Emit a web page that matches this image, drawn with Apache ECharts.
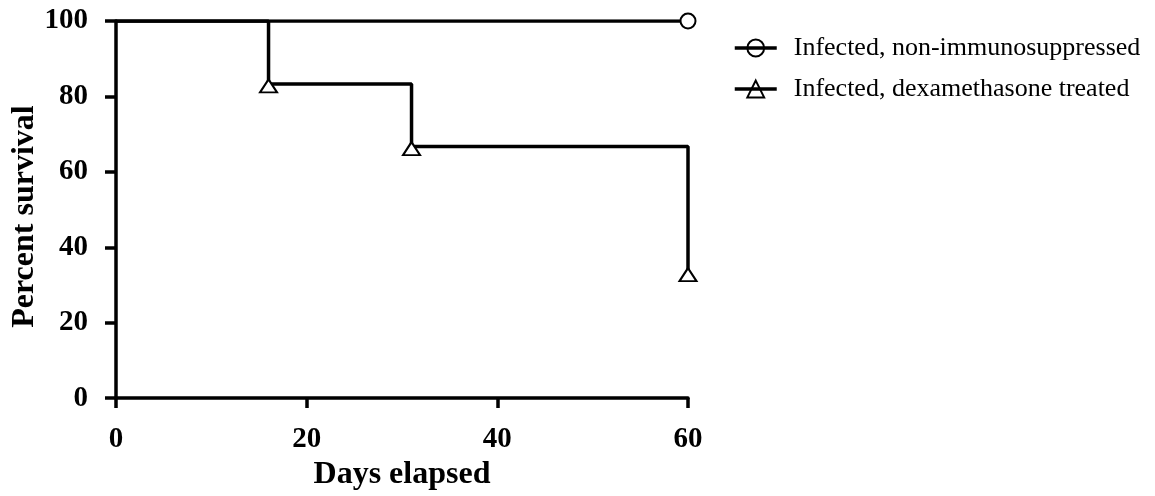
<!DOCTYPE html>
<html>
<head>
<meta charset="utf-8">
<script src="https://cdn.jsdelivr.net/npm/echarts@6/dist/echarts.min.js"></script>
<style>html,body{margin:0;padding:0;background:#fff}#c{width:1155px;height:496px}</style>
</head>
<body>
<div id="c"></div>
<script>
const seriesNames = ['Infected, non-immunosuppressed', 'Infected, dexamethasone treated'];
const nonImmDays = [0, 60];
const nonImmSurvival = [100, 100];
const dexaDays = [0, 16, 31, 60];
const dexaSurvival = [100, 83.3, 66.7, 33.3];
const xTicks = [0, 20, 40, 60];
const yTicks = [0, 20, 40, 60, 80, 100];
const xTitle = 'Days elapsed';
const yTitle = 'Percent survival';

const FONT = "'Liberation Serif', 'Times New Roman', serif";

function toData(xs, ys) {
  return xs.map((x, i) => ({
    value: [x, ys[i]],
    symbol: i === 0 ? 'none' : undefined
  }));
}

const chart = echarts.init(document.getElementById('c'), null, {renderer: 'canvas'});
chart.setOption({
  animation: false,
  backgroundColor: '#fff',
  grid: {left: 116, right: 467, top: 21, bottom: 96, containLabel: false},
  legend: {
    orient: 'vertical',
    left: 728,
    top: 30,
    itemWidth: 42,
    itemHeight: 21,
    itemGap: 15,
    lineStyle: {width: 3.5, color: '#000'},
    textStyle: {fontFamily: FONT, fontSize: 26, color: '#000', padding: [0, 0, 0, 12]},
    data: seriesNames.map(n => ({name: n, itemStyle: {color: 'rgba(255,255,255,0)', borderColor: '#000', borderWidth: 2}}))
  },
  xAxis: {
    type: 'value',
    min: xTicks[0], max: xTicks[xTicks.length - 1], interval: 20,
    name: xTitle, nameLocation: 'middle', nameGap: 60,
    nameTextStyle: {fontFamily: FONT, fontWeight: 'bold', fontSize: 32, color: '#000'},
    axisLine: {onZero: false, lineStyle: {color: '#000', width: 3.5}},
    axisTick: {show: true, length: 10, inside: false, lineStyle: {color: '#000', width: 3.5}},
    axisLabel: {fontFamily: FONT, fontWeight: 'bold', fontSize: 29, color: '#000', margin: 27},
    splitLine: {show: false}
  },
  yAxis: {
    type: 'value',
    min: yTicks[0], max: yTicks[yTicks.length - 1], interval: 20,
    name: yTitle, nameLocation: 'middle', nameGap: 75,
    nameTextStyle: {fontFamily: FONT, fontWeight: 'bold', fontSize: 32, color: '#000', padding: [0, 14, 0, 0]},
    axisLine: {show: true, onZero: false, lineStyle: {color: '#000', width: 3.5}},
    axisTick: {show: true, length: 11, inside: false, lineStyle: {color: '#000', width: 3.5}},
    axisLabel: {fontFamily: FONT, fontWeight: 'bold', fontSize: 29, color: '#000', margin: 28},
    splitLine: {show: false}
  },
  series: [
    {
      name: seriesNames[0],
      type: 'line',
      step: 'end',
      data: toData(nonImmDays, nonImmSurvival),
      symbol: 'circle',
      symbolSize: 15,
      showAllSymbol: true,
      lineStyle: {color: '#000', width: 3.5},
      itemStyle: {color: '#fff', borderColor: '#000', borderWidth: 2},
      z: 3
    },
    {
      name: seriesNames[1],
      type: 'line',
      step: 'end',
      data: toData(dexaDays, dexaSurvival),
      symbol: 'triangle',
      symbolSize: [17, 13],
      symbolOffset: [0, 2],
      showAllSymbol: true,
      lineStyle: {color: '#000', width: 3.5},
      itemStyle: {color: '#fff', borderColor: '#000', borderWidth: 2},
      z: 4
    }
  ]
});
</script>
</body>
</html>
